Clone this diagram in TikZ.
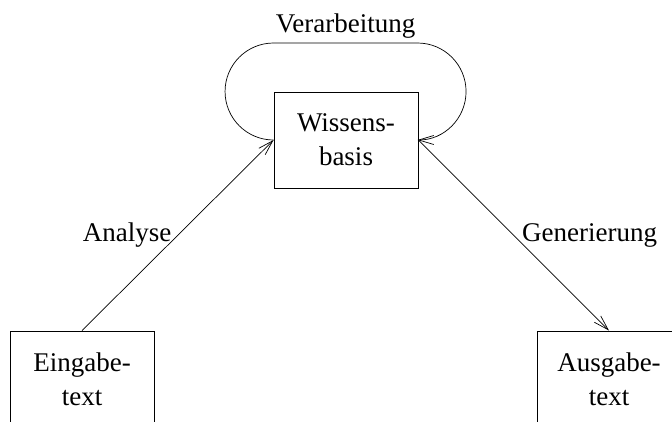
\documentclass[tikz,border=0pt]{standalone}
\usepackage{fontspec}
\setmainfont{Liberation Serif}
\usetikzlibrary{arrows.meta,positioning}

\tikzset{
  kasten/.style={draw,line width=0.9pt,minimum width=144pt,minimum height=96pt,
    inner sep=0pt,align=center,font=\fontsize{27}{34}\selectfont},
  pfeil/.style={-{Straight Barb[length=15pt,width=9pt]},line width=0.7pt},
  beschriftung/.style={font=\fontsize{27}{34}\selectfont}
}

\begin{document}
\begin{tikzpicture}[x=1pt,y=-1pt]
  \useasboundingbox (0,0) rectangle (672,421);
  \clip (0,0) rectangle (672,421);
  % Kaesten
  \node[kasten] (wissen) at (346,140) {Wissens-\\basis};
  \node[kasten] (eingabe) at (82,379) {Eingabe-\\text};
  \node[kasten] (ausgabe) at (609,379) {Ausgabe-\\text};
  % Pfeile
  \draw[pfeil] (eingabe.north) -- node[beschriftung,left,inner sep=6pt] {Analyse} (wissen.west);
  \draw[pfeil] (wissen.east) -- node[beschriftung,right,inner sep=8pt] {Generierung} (ausgabe.north);
  \draw[pfeil] (wissen.west) arc[start angle=90,end angle=270,radius=48.5]
    -- node[beschriftung,above,inner sep=4pt] {Verarbeitung} ++(144,0)
    arc[start angle=270,end angle=450,radius=48.5];
\end{tikzpicture}
\end{document}
